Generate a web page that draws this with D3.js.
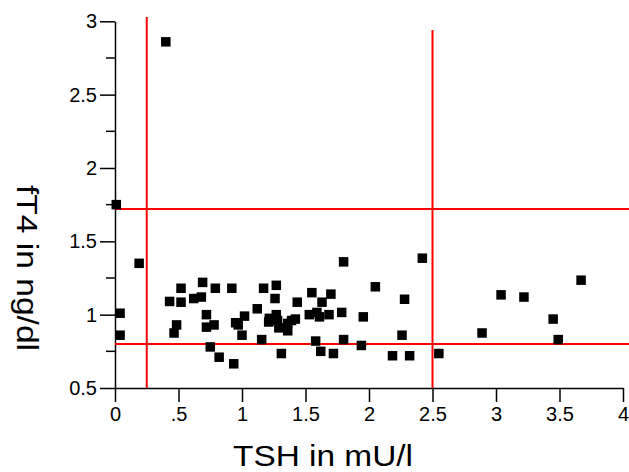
<!DOCTYPE html>
<html>
<head>
<meta charset="utf-8">
<script src="https://cdn.jsdelivr.net/npm/d3@7"></script>
<style>
  body { margin: 0; background: #fff; }
  svg { display: block; }
  text { font-family: "Liberation Sans", Arial, sans-serif; fill: #000; }
</style>
</head>
<body>
<svg id="chart" width="629" height="472"></svg>
<script>
// data: TSH (mU/l) vs fT4 (ng/dl)
const tsh = [0.01, 0.04, 0.04, 0.19, 0.40,
  0.43, 0.465, 0.485, 0.52, 0.52, 0.62, 0.68, 0.69, 0.72, 0.72,
  0.75, 0.78, 0.79, 0.82, 0.92, 0.935, 0.95, 0.97, 1.0, 1.02,
  1.12, 1.155, 1.17, 1.21, 1.215, 1.26, 1.27, 1.27, 1.28, 1.29, 1.31,
  1.36, 1.36, 1.39, 1.42, 1.435, 1.53, 1.55, 1.58, 1.59, 1.61, 1.62,
  1.63, 1.685, 1.70, 1.72, 1.785, 1.80, 1.80, 1.94, 1.955, 2.05,
  2.185, 2.26, 2.28, 2.32, 2.42, 2.55, 2.89, 3.04, 3.22, 3.45, 3.49, 3.67];
const ft4 = [1.75, 1.01, 0.86, 1.35, 2.86,
  1.09, 0.875, 0.93, 1.18, 1.085, 1.11, 1.12, 1.22, 1.0, 0.915,
  0.78, 0.93, 1.18, 0.71, 1.18, 0.665, 0.945, 0.93, 0.86, 0.99,
  1.04, 0.83, 1.18, 0.95, 0.975, 1.11, 1.2, 1.0, 0.96, 0.91, 0.735,
  0.94, 0.89, 0.96, 0.97, 1.085, 1.0, 1.15, 0.82, 1.015, 0.985, 0.75,
  1.085, 1.0, 1.14, 0.735, 1.015, 1.36, 0.83, 0.79, 0.985, 1.19,
  0.72, 0.86, 1.105, 0.72, 1.385, 0.735, 0.875, 1.135, 1.12, 0.97, 0.83, 1.235];

// reference lines (in data units)
const vLines = [{ x: 0.25, top: 3.03 }, { x: 2.5, top: 2.94 }];
const hLines = [1.72, 0.8];

const xTicks = [0, 0.5, 1, 1.5, 2, 2.5, 3, 3.5, 4];
const xTickLabels = ["0", ".5", "1", "1.5", "2", "2.5", "3", "3.5", "4"];
const yMajor = [0.5, 1, 1.5, 2, 2.5, 3];
const yMajorLabels = ["0.5", "1", "1.5", "2", "2.5", "3"];
const yMinor = [0.75, 1.25, 1.75, 2.25, 2.75];

const svg = d3.select("#chart");

const x = d3.scaleLinear().domain([0, 4]).range([115, 623]);
const y = d3.scaleLinear().domain([0.5, 3]).range([388, 21.3]);

// axes
const xAxis = d3.axisBottom(x)
  .tickValues(xTicks)
  .tickFormat((d, i) => xTickLabels[i])
  .tickSize(14)
  .tickPadding(5)
  .tickSizeOuter(0);

const gx = svg.append("g")
  .attr("transform", `translate(0,${y(0.5)})`)
  .call(xAxis);
gx.select(".domain").attr("stroke", "#000").attr("stroke-width", 1.5);
gx.selectAll(".tick line").attr("stroke", "#000").attr("stroke-width", 1.5);
gx.selectAll(".tick text")
  .attr("font-size", 20)
  .attr("font-family", "Liberation Sans, Arial, sans-serif");

const yAxis = d3.axisLeft(y)
  .tickValues(yMajor)
  .tickFormat((d, i) => yMajorLabels[i])
  .tickSize(15)
  .tickPadding(3)
  .tickSizeOuter(0);

const gy = svg.append("g")
  .attr("transform", `translate(${x(0)},0)`)
  .call(yAxis);
gy.select(".domain").attr("stroke", "#000").attr("stroke-width", 1.5);
gy.selectAll(".tick line").attr("stroke", "#000").attr("stroke-width", 1.5);
gy.selectAll(".tick text")
  .attr("font-size", 20)
  .attr("font-family", "Liberation Sans, Arial, sans-serif");

// minor y ticks
svg.append("g").selectAll("line")
  .data(yMinor)
  .join("line")
  .attr("x1", x(0) - 9)
  .attr("x2", x(0))
  .attr("y1", d => y(d))
  .attr("y2", d => y(d))
  .attr("stroke", "#000")
  .attr("stroke-width", 1.5);

// red reference lines
svg.append("g").selectAll("line")
  .data(vLines)
  .join("line")
  .attr("x1", d => x(d.x))
  .attr("x2", d => x(d.x))
  .attr("y1", d => y(d.top))
  .attr("y2", y(0.5))
  .attr("stroke", "#ff0000")
  .attr("stroke-width", 2);

svg.append("g").selectAll("line")
  .data(hLines)
  .join("line")
  .attr("x1", x(0))
  .attr("x2", 629)
  .attr("y1", d => y(d))
  .attr("y2", d => y(d))
  .attr("stroke", "#ff0000")
  .attr("stroke-width", 2);

// points
const pts = tsh.map((v, i) => ({ x: v, y: ft4[i] }));
const size = 9.5;
svg.append("g").selectAll("rect")
  .data(pts)
  .join("rect")
  .attr("x", d => x(d.x) - size / 2)
  .attr("y", d => y(d.y) - size / 2)
  .attr("width", size)
  .attr("height", size)
  .attr("fill", "#000");

// axis titles
svg.append("text")
  .attr("x", 323)
  .attr("y", 466)
  .attr("text-anchor", "middle")
  .attr("font-size", 29)
  .attr("textLength", 180)
  .attr("lengthAdjust", "spacingAndGlyphs")
  .text("TSH in mU/l");

svg.append("text")
  .attr("transform", "translate(17,268) rotate(90)")
  .attr("text-anchor", "middle")
  .attr("font-size", 30)
  .attr("textLength", 166)
  .attr("lengthAdjust", "spacingAndGlyphs")
  .text("fT4 in ng/dl");
</script>
</body>
</html>
